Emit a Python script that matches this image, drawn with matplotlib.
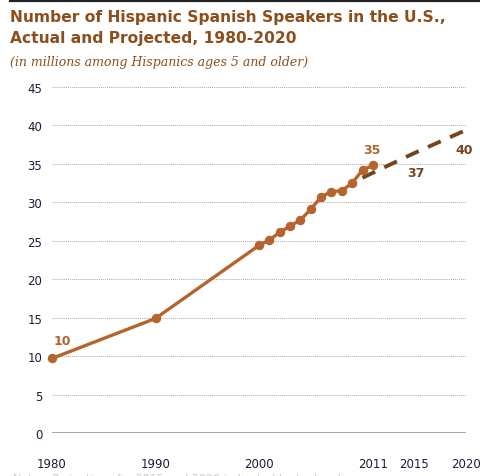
import numpy as np
import matplotlib.pyplot as plt
from matplotlib.lines import Line2D

years = [1980, 1990, 2000, 2001, 2002, 2003, 2004, 2005, 2006, 2007, 2008, 2009, 2010, 2011]
speakers = [9.7, 14.9, 24.4, 25.1, 26.1, 26.9, 27.7, 29.1, 30.7, 31.4, 31.5, 32.5, 34.2, 34.8]

# projected values
proj_years = [2010, 2015, 2020]
proj_speakers = [33.2, 36.4, 39.4]

xticks = [1980, 1990, 2000, 2011, 2015, 2020]
yticks = [0, 5, 10, 15, 20, 25, 30, 35, 40, 45]

actual_c = '#b4642c'
proj_c = '#74461f'
title_c = '#8c4f1c'
tick_c = '#1c1c3c'

fig = plt.figure(figsize=(4.81, 4.77), dpi=100)
ax = fig.add_axes([52/481, 1-434/477, (466-52)/481, (434-88)/477])

ax.plot(proj_years, proj_speakers, color=proj_c, lw=2.8, ls=(0, (3.6, 2.6)),
        dash_capstyle='butt', zorder=3)
ax.plot(years, speakers, color=actual_c, lw=2.4, marker='o', ms=5.8,
        clip_on=False, zorder=4)

ax.set_xlim(1980, 2020)
ax.set_ylim(0, 45)
ax.set_xticks(xticks)
ax.set_yticks(yticks)
ax.tick_params(length=0, labelsize=8.5, labelcolor=tick_c)
ax.tick_params(axis='x', pad=17)
ax.tick_params(axis='y', pad=7)
for s in ax.spines.values():
    s.set_visible(False)
ax.grid(axis='y', ls=(0, (1, 1)), color='#a8a8a8', lw=0.7)
ax.axhline(0, color='#9a9a9a', lw=1.2, zorder=2)

# data labels
ax.annotate('10', (years[0], speakers[0]), xytext=(1, 8), textcoords='offset points',
            color=actual_c, fontsize=9, fontweight='bold', ha='left', va='bottom')
ax.annotate('35', (years[-1], speakers[-1]), xytext=(-1, 6.5), textcoords='offset points',
            color=actual_c, fontsize=9, fontweight='bold', ha='center', va='bottom')
ax.annotate('37', (proj_years[1], proj_speakers[1]), xytext=(1, -9), textcoords='offset points',
            color=proj_c, fontsize=9, fontweight='bold', ha='center', va='top')
ax.annotate('40', (proj_years[2], proj_speakers[2]), xytext=(-1, -9), textcoords='offset points',
            color=proj_c, fontsize=9, fontweight='bold', ha='center', va='top')

# top rule
fig.add_artist(Line2D([10/481, 1], [1-2/477, 1-2/477], color='#222222', lw=1.6))

fig.text(10/481, 1-10/477, 'Number of Hispanic Spanish Speakers in the U.S.,\nActual and Projected, 1980-2020',
         fontsize=11.2, fontweight='bold', color=title_c, va='top', ha='left', linespacing=1.5)
fig.text(10/481, 1-56/477, '(in millions among Hispanics ages 5 and older)',
         fontsize=9, style='italic', family='DejaVu Serif', color=title_c, va='top', ha='left')

fig.text(13/481, 1-474/477, 'Notes: Projections for 2015 and 2020 indicated by broken line.',
         fontsize=8, color='#c8c8c8', va='top', ha='left')

fig.savefig('out.png', dpi=100)
